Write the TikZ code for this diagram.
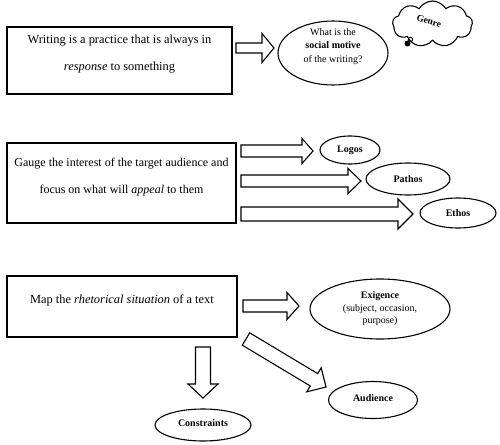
\documentclass[tikz,border=0pt]{standalone}
\usepackage{fontspec}
\setmainfont{Liberation Serif}
\usetikzlibrary{calc,shapes.geometric,shapes.symbols}
\tikzset{
  boxnode/.style={draw,line width=1.3pt,minimum width=#1,inner sep=0pt},
  boxtext/.style={align=center,inner sep=0pt,font=\fontsize{12.4}{27}\selectfont},
  oval/.style={draw,ellipse,line width=1.1pt,inner sep=0pt,align=center,font=\fontsize{10}{12.5}\selectfont},
  ovallabel/.style={align=center,inner sep=0pt,font=\fontsize{10}{13.5}\selectfont},
  blockarrow/.style={draw,line width=1.1pt,fill=white,line join=miter},
}
% block arrow: tail, tip, shaft half-width, head half-width, head length
\newcommand\blockarr[5]{%
  \coordinate (bahead) at ($(#2)!#5!(#1)$);
  \draw[blockarrow] ($(#1)!#3!90:(#2)$) -- ($(bahead)!#3!90:(#2)$) -- ($(bahead)!#4!90:(#2)$)
    -- (#2) -- ($(bahead)!#4!-90:(#2)$) -- ($(bahead)!#3!-90:(#2)$) -- ($(#1)!#3!-90:(#2)$) -- cycle;}
\begin{document}
\begin{tikzpicture}[x=1pt,y=-1pt]
\useasboundingbox (0,0) rectangle (500,444);
% ---------- row 1
\node[boxnode=225pt,minimum height=67pt] (box1) at (119.5,60.5) {};
\node[boxtext] (t1) at (119.5,54) {Writing is a practice that is always in\\\textit{response} to something};
\node[oval,minimum width=110pt,minimum height=64pt] (e1) at (333,53) {};
\node[ovallabel] (e1t) at (333,46.5) {What is the\\\textbf{social motive}\\of the writing?};
\node[cloud,draw,line width=1.1pt,cloud puffs=9,cloud puff arc=120,aspect=1.75,minimum width=80pt,minimum height=46pt,inner sep=0pt] (genre) at (432.5,24) {};
\node[rotate=-17,font=\fontsize{9.5}{11}\selectfont\bfseries,inner sep=0pt] (genret) at (429,21) {Genre};
\fill (407.5,43.5) circle (3pt);
\draw[line width=0.9pt] (410.5,39.5) circle (2.2pt);
\coordinate (a1s) at (236,48);
\coordinate (a1e) at (274,48);
\blockarr{a1s}{a1e}{5pt}{14.5pt}{12pt}
% ---------- row 2
\node[boxnode=229pt,minimum height=80pt] (box2) at (121.5,183) {};
\node[boxtext,font=\fontsize{12}{27}\selectfont] (t2) at (121.5,177) {Gauge the interest of the target audience and\\focus on what will \textit{appeal} to them};
\node[oval,minimum width=60pt,minimum height=28pt,font=\fontsize{10}{12}\selectfont\bfseries] (logos) at (350,150) {Logos};
\node[oval,minimum width=84pt,minimum height=32pt,font=\fontsize{10}{12}\selectfont\bfseries] (pathos) at (408,179) {Pathos};
\node[oval,minimum width=76pt,minimum height=30pt,font=\fontsize{10}{12}\selectfont\bfseries] (ethos) at (458,213) {Ethos};
\coordinate (b1s) at (241,151);
\coordinate (b1e) at (313,151);
\coordinate (b2s) at (241,181);
\coordinate (b2e) at (361,181);
\coordinate (b3s) at (241,214);
\coordinate (b3e) at (413,214);
\blockarr{b1s}{b1e}{6pt}{12.5pt}{11pt}
\blockarr{b2s}{b2e}{6pt}{12.5pt}{13pt}
\blockarr{b3s}{b3e}{7pt}{15pt}{15pt}
% ---------- row 3
\node[boxnode=230pt,minimum height=61pt] (box3) at (122,306.5) {};
\node[boxtext] (t3) at (122,300) {Map the \textit{rhetorical situation} of a text};
\node[oval,minimum width=140pt,minimum height=60pt] (exig) at (380,309) {\textbf{Exigence}\\(subject, occasion,\\purpose)};
\node[oval,minimum width=96pt,minimum height=32pt,font=\fontsize{10}{12}\selectfont\bfseries] (constr) at (203,425) {\raisebox{3pt}{Constraints}};
\node[oval,minimum width=89pt,minimum height=37pt,font=\fontsize{10}{12}\selectfont\bfseries] (aud) at (373,400) {\raisebox{3pt}{Audience}};
\coordinate (c1s) at (243,306);
\coordinate (c1e) at (299,306);
\coordinate (c2s) at (246,339);
\coordinate (c2e) at (326,387);
\coordinate (c3s) at (203,347);
\coordinate (c3e) at (203,398);
\blockarr{c1s}{c1e}{6pt}{13.5pt}{12pt}
\blockarr{c2s}{c2e}{7.2pt}{14pt}{14pt}
\blockarr{c3s}{c3e}{7.5pt}{15pt}{14pt}
\end{tikzpicture}
\end{document}
